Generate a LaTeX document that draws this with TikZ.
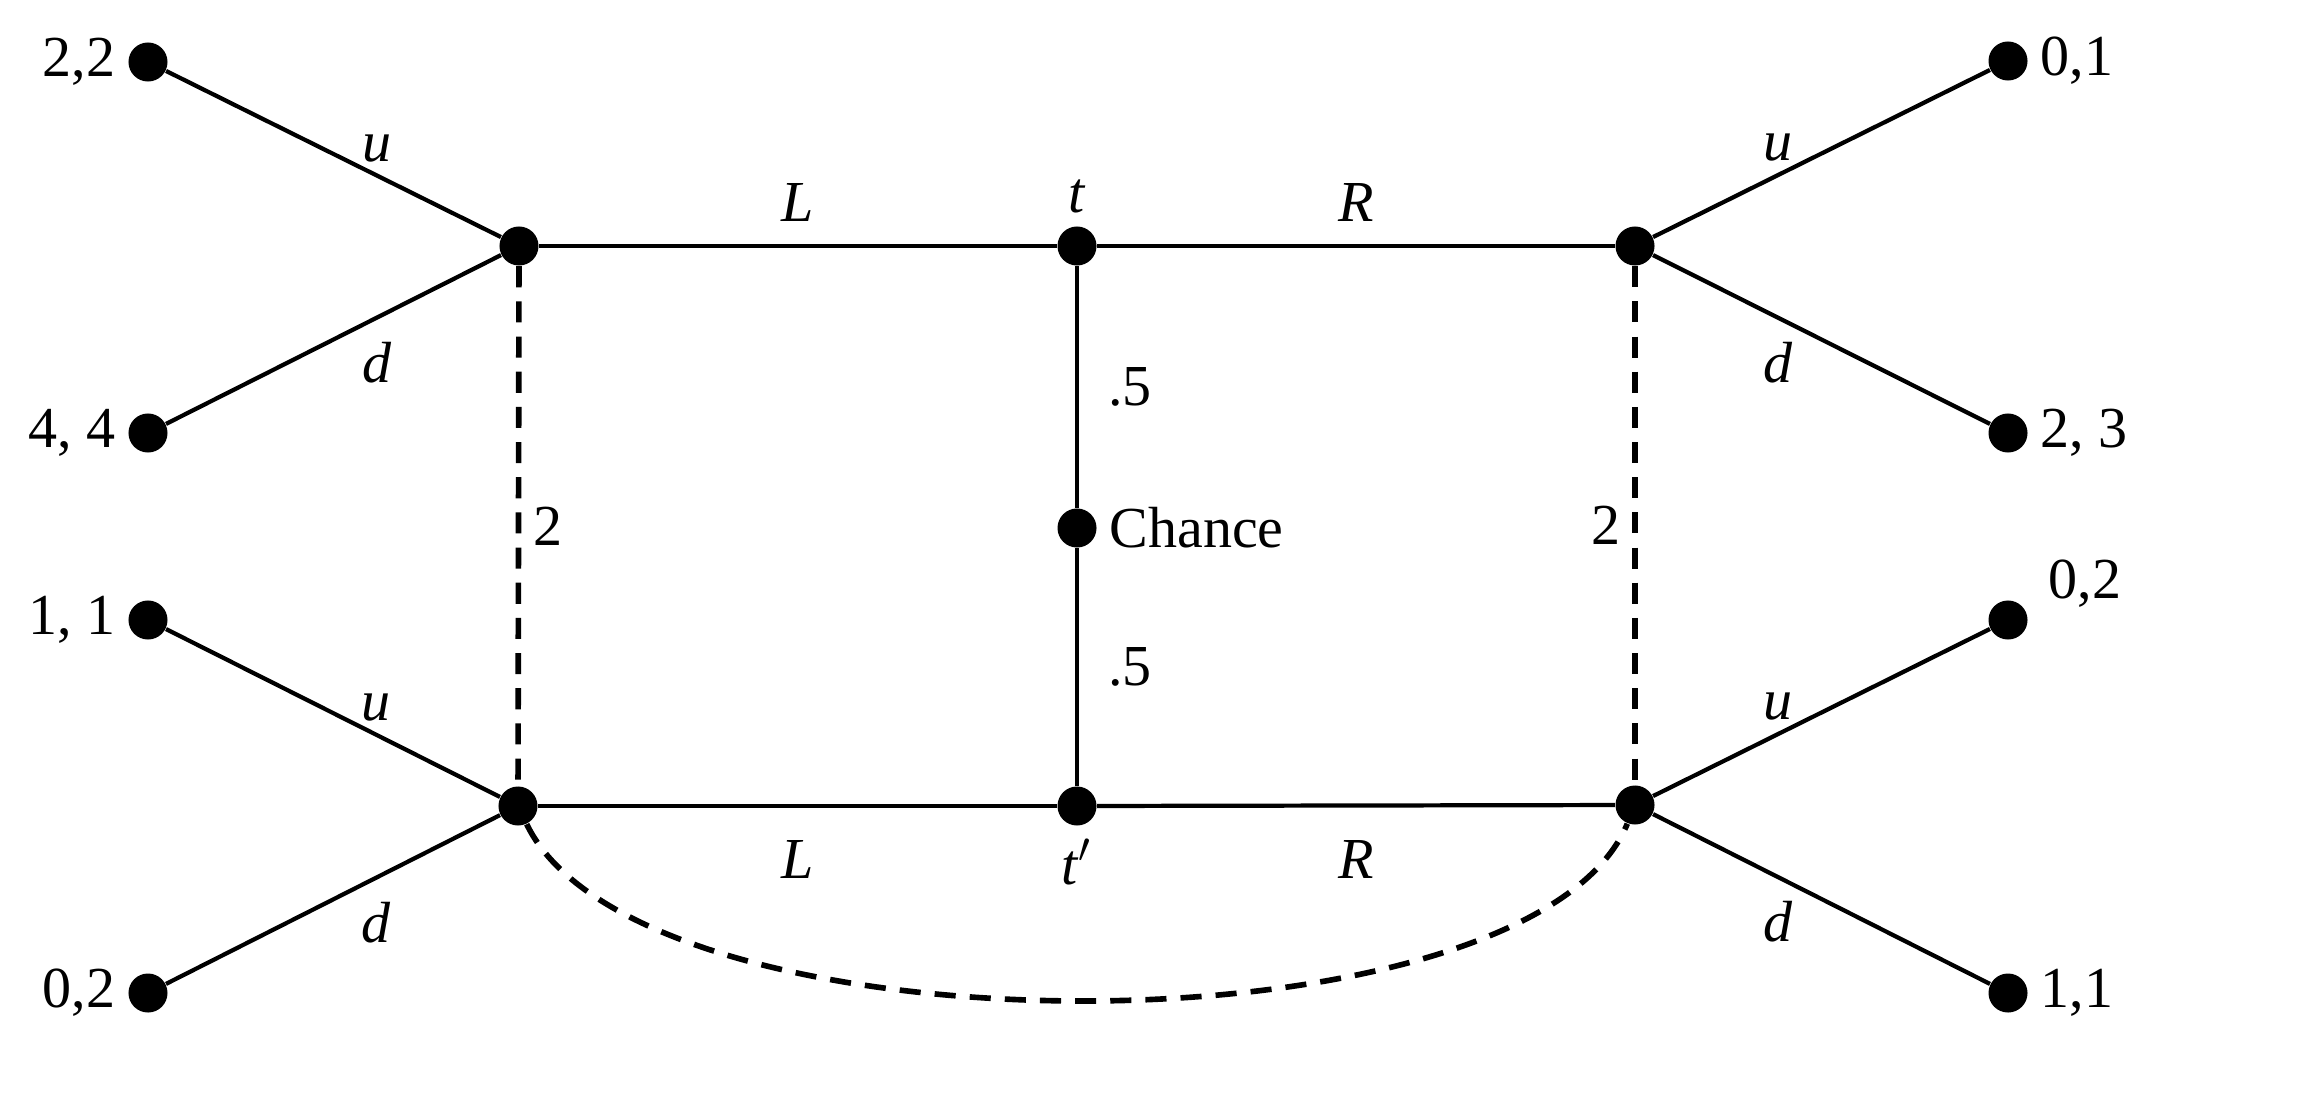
\documentclass[tikz,border=0pt]{standalone}
\usepackage{fontspec}
\setmainfont{Liberation Serif}
\usetikzlibrary{positioning}
\tikzset{
  dot/.style={circle,fill=black,inner sep=0pt,minimum size=0.39cm},
  move/.style={line width=1.2pt},
  infoset/.style={line width=1.6pt,dash pattern=on 6pt off 4pt},
}

\begin{document}
\begin{tikzpicture}[x=0.01cm,y=-0.01cm,font=\fontsize{16.5}{19}\selectfont]
\useasboundingbox (0,0) rectangle (2309,1103);
% decision nodes
\node[dot] (A) at (519,246) {};
\node[dot] (B) at (518,806) {};
\node[dot,label=above:\textit{t}] (t) at (1077,246) {};
\node[dot,label=right:Chance] (chance) at (1077,528) {};
\node[dot,label=below:\textit{t}$'$] (tp) at (1077,806) {};
\node[dot] (C) at (1635,246) {};
\node[dot] (D) at (1635,805) {};
% payoffs
\node[dot,label=left:{2,2}] (uA) at (148,62) {};
\node[dot,label=left:{4, 4}] (dA) at (148,433) {};
\node[dot,label=left:{1, 1}] (uB) at (148,620) {};
\node[dot,label=left:{0,2}] (dB) at (148,993) {};
\node[dot,label=right:{0,1}] (uC) at (2008,61) {};
\node[dot,label=right:{2, 3}] (dC) at (2008,433) {};
\node[dot,label={[xshift=4pt,yshift=-4pt]above right:{0,2}}] (uD) at (2008,620) {};
\node[dot,label=right:{1,1}] (dD) at (2008,993) {};

\draw[move] (A) -- node[midway,above=3pt]{\textit{L}} (t);
\draw[move] (t) -- node[midway,above=3pt]{\textit{R}} (C);
\draw[move] (B) -- node[midway,below=6pt]{\textit{L}} (tp);
\draw[move] (tp) -- node[midway,below=6pt]{\textit{R}} (D);
\draw[move] (t) -- node[midway,right=5pt]{.5} (chance);
\draw[move] (chance) -- node[midway,right=5pt]{.5} (tp);

\draw[move] (A) -- node[pos=.37,above]{\textit{u}} (uA);
\draw[move] (A) -- node[pos=.37,below=3pt]{\textit{d}} (dA);
\draw[move] (B) -- node[pos=.37,above]{\textit{u}} (uB);
\draw[move] (B) -- node[pos=.37,below=3pt]{\textit{d}} (dB);
\draw[move] (C) -- node[pos=.37,above]{\textit{u}} (uC);
\draw[move] (C) -- node[pos=.37,below=3pt]{\textit{d}} (dC);
\draw[move] (D) -- node[pos=.37,above]{\textit{u}} (uD);
\draw[move] (D) -- node[pos=.37,below=3pt]{\textit{d}} (dD);

% information sets of player 2
\draw[infoset] (A) -- node[midway,right]{2} (B);
\draw[infoset] (C) -- node[midway,left]{2} (D);
\draw[infoset] (B) .. controls (640,1060) and (1530,1060) .. (D);
\end{tikzpicture}
\end{document}
